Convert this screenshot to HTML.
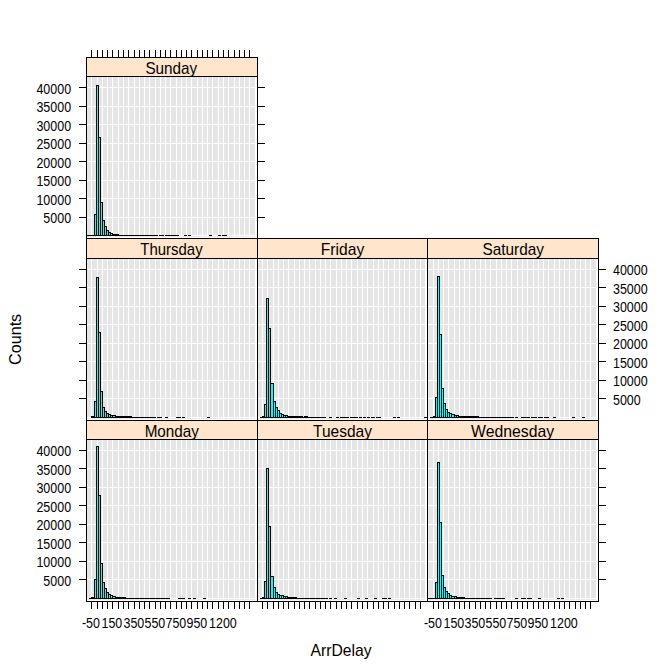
<!DOCTYPE html>
<html><head><meta charset="utf-8"><title>ArrDelay histogram</title>
<style>
html,body{margin:0;padding:0;background:#fff;}
svg{display:block;}
text{font-family:"Liberation Sans",sans-serif;fill:#000;}
</style></head><body>
<svg width="672" height="672" viewBox="0 0 672 672">
<rect x="0" y="0" width="672" height="672" fill="#fff"/>
<defs><clipPath id="c0"><rect x="87" y="58" width="170" height="18"/></clipPath><clipPath id="c1"><rect x="87" y="239" width="170" height="19"/></clipPath><clipPath id="c2"><rect x="258" y="239" width="169" height="19"/></clipPath><clipPath id="c3"><rect x="428" y="239" width="170" height="19"/></clipPath><clipPath id="c4"><rect x="87" y="421" width="170" height="18"/></clipPath><clipPath id="c5"><rect x="258" y="421" width="169" height="18"/></clipPath><clipPath id="c6"><rect x="428" y="421" width="170" height="18"/></clipPath></defs>
<g shape-rendering="crispEdges">
<rect x="86" y="57" width="172" height="20" fill="#ffe5cc"/>
<rect x="87" y="77" width="169" height="160" fill="#e5e5e5"/>
<rect x="91" y="77" width="1" height="161" fill="#fff"/>
<rect x="97" y="77" width="1" height="161" fill="#fff"/>
<rect x="102" y="77" width="1" height="161" fill="#fff"/>
<rect x="107" y="77" width="1" height="161" fill="#fff"/>
<rect x="112" y="77" width="1" height="161" fill="#fff"/>
<rect x="118" y="77" width="1" height="161" fill="#fff"/>
<rect x="123" y="77" width="1" height="161" fill="#fff"/>
<rect x="128" y="77" width="1" height="161" fill="#fff"/>
<rect x="134" y="77" width="1" height="161" fill="#fff"/>
<rect x="139" y="77" width="1" height="161" fill="#fff"/>
<rect x="144" y="77" width="1" height="161" fill="#fff"/>
<rect x="149" y="77" width="1" height="161" fill="#fff"/>
<rect x="155" y="77" width="1" height="161" fill="#fff"/>
<rect x="160" y="77" width="1" height="161" fill="#fff"/>
<rect x="165" y="77" width="1" height="161" fill="#fff"/>
<rect x="170" y="77" width="1" height="161" fill="#fff"/>
<rect x="176" y="77" width="1" height="161" fill="#fff"/>
<rect x="181" y="77" width="1" height="161" fill="#fff"/>
<rect x="186" y="77" width="1" height="161" fill="#fff"/>
<rect x="191" y="77" width="1" height="161" fill="#fff"/>
<rect x="197" y="77" width="1" height="161" fill="#fff"/>
<rect x="202" y="77" width="1" height="161" fill="#fff"/>
<rect x="207" y="77" width="1" height="161" fill="#fff"/>
<rect x="212" y="77" width="1" height="161" fill="#fff"/>
<rect x="218" y="77" width="1" height="161" fill="#fff"/>
<rect x="223" y="77" width="1" height="161" fill="#fff"/>
<rect x="228" y="77" width="1" height="161" fill="#fff"/>
<rect x="234" y="77" width="1" height="161" fill="#fff"/>
<rect x="239" y="77" width="1" height="161" fill="#fff"/>
<rect x="244" y="77" width="1" height="161" fill="#fff"/>
<rect x="249" y="77" width="1" height="161" fill="#fff"/>
<rect x="255" y="77" width="1" height="161" fill="#fff"/>
<rect x="87" y="87" width="170" height="1" fill="#fff"/>
<rect x="87" y="106" width="170" height="1" fill="#fff"/>
<rect x="87" y="124" width="170" height="1" fill="#fff"/>
<rect x="87" y="143" width="170" height="1" fill="#fff"/>
<rect x="87" y="161" width="170" height="1" fill="#fff"/>
<rect x="87" y="180" width="170" height="1" fill="#fff"/>
<rect x="87" y="198" width="170" height="1" fill="#fff"/>
<rect x="87" y="217" width="170" height="1" fill="#fff"/>
<rect x="87" y="235" width="170" height="1" fill="#fff"/>
<rect x="87" y="235" width="71" height="1" fill="#000"/>
<rect x="159" y="235" width="5" height="1" fill="#000"/>
<rect x="165" y="235" width="14" height="1" fill="#000"/>
<rect x="184" y="235" width="3" height="1" fill="#000"/>
<rect x="188" y="235" width="3" height="1" fill="#000"/>
<rect x="209" y="235" width="3" height="1" fill="#000"/>
<rect x="218" y="235" width="3" height="1" fill="#000"/>
<rect x="222" y="235" width="5" height="1" fill="#000"/>
<rect x="112" y="234" width="7" height="2" fill="#000"/>
<rect x="94" y="214" width="3" height="22" fill="#000"/>
<rect x="95" y="215" width="1" height="20" fill="#00ffff"/>
<rect x="96" y="85" width="3" height="151" fill="#000"/>
<rect x="97" y="86" width="1" height="149" fill="#00ffff"/>
<rect x="98" y="137" width="3" height="99" fill="#000"/>
<rect x="99" y="138" width="1" height="97" fill="#00ffff"/>
<rect x="100" y="202" width="3" height="34" fill="#000"/>
<rect x="101" y="203" width="1" height="32" fill="#00ffff"/>
<rect x="102" y="220" width="3" height="16" fill="#000"/>
<rect x="103" y="221" width="1" height="14" fill="#00ffff"/>
<rect x="104" y="226" width="3" height="10" fill="#000"/>
<rect x="105" y="227" width="1" height="8" fill="#00ffff"/>
<rect x="106" y="230" width="3" height="6" fill="#000"/>
<rect x="107" y="231" width="1" height="4" fill="#00ffff"/>
<rect x="108" y="232" width="3" height="4" fill="#000"/>
<rect x="109" y="233" width="1" height="2" fill="#00ffff"/>
<rect x="110" y="233" width="3" height="3" fill="#000"/>
<rect x="111" y="234" width="1" height="1" fill="#00ffff"/>
<rect x="86" y="57" width="172" height="1" fill="#000"/>
<rect x="86" y="76" width="172" height="1" fill="#000"/>
<rect x="86" y="238" width="172" height="1" fill="#000"/>
<rect x="86" y="57" width="1" height="182" fill="#000"/>
<rect x="257" y="57" width="1" height="182" fill="#000"/>
<rect x="86" y="238" width="172" height="21" fill="#ffe5cc"/>
<rect x="87" y="259" width="169" height="160" fill="#e5e5e5"/>
<rect x="91" y="259" width="1" height="161" fill="#fff"/>
<rect x="97" y="259" width="1" height="161" fill="#fff"/>
<rect x="102" y="259" width="1" height="161" fill="#fff"/>
<rect x="107" y="259" width="1" height="161" fill="#fff"/>
<rect x="112" y="259" width="1" height="161" fill="#fff"/>
<rect x="118" y="259" width="1" height="161" fill="#fff"/>
<rect x="123" y="259" width="1" height="161" fill="#fff"/>
<rect x="128" y="259" width="1" height="161" fill="#fff"/>
<rect x="134" y="259" width="1" height="161" fill="#fff"/>
<rect x="139" y="259" width="1" height="161" fill="#fff"/>
<rect x="144" y="259" width="1" height="161" fill="#fff"/>
<rect x="149" y="259" width="1" height="161" fill="#fff"/>
<rect x="155" y="259" width="1" height="161" fill="#fff"/>
<rect x="160" y="259" width="1" height="161" fill="#fff"/>
<rect x="165" y="259" width="1" height="161" fill="#fff"/>
<rect x="170" y="259" width="1" height="161" fill="#fff"/>
<rect x="176" y="259" width="1" height="161" fill="#fff"/>
<rect x="181" y="259" width="1" height="161" fill="#fff"/>
<rect x="186" y="259" width="1" height="161" fill="#fff"/>
<rect x="191" y="259" width="1" height="161" fill="#fff"/>
<rect x="197" y="259" width="1" height="161" fill="#fff"/>
<rect x="202" y="259" width="1" height="161" fill="#fff"/>
<rect x="207" y="259" width="1" height="161" fill="#fff"/>
<rect x="212" y="259" width="1" height="161" fill="#fff"/>
<rect x="218" y="259" width="1" height="161" fill="#fff"/>
<rect x="223" y="259" width="1" height="161" fill="#fff"/>
<rect x="228" y="259" width="1" height="161" fill="#fff"/>
<rect x="234" y="259" width="1" height="161" fill="#fff"/>
<rect x="239" y="259" width="1" height="161" fill="#fff"/>
<rect x="244" y="259" width="1" height="161" fill="#fff"/>
<rect x="249" y="259" width="1" height="161" fill="#fff"/>
<rect x="255" y="259" width="1" height="161" fill="#fff"/>
<rect x="87" y="269" width="170" height="1" fill="#fff"/>
<rect x="87" y="287" width="170" height="1" fill="#fff"/>
<rect x="87" y="306" width="170" height="1" fill="#fff"/>
<rect x="87" y="324" width="170" height="1" fill="#fff"/>
<rect x="87" y="343" width="170" height="1" fill="#fff"/>
<rect x="87" y="361" width="170" height="1" fill="#fff"/>
<rect x="87" y="380" width="170" height="1" fill="#fff"/>
<rect x="87" y="398" width="170" height="1" fill="#fff"/>
<rect x="87" y="417" width="170" height="1" fill="#fff"/>
<rect x="91" y="417" width="65" height="1" fill="#000"/>
<rect x="157" y="417" width="5" height="1" fill="#000"/>
<rect x="165" y="417" width="3" height="1" fill="#000"/>
<rect x="176" y="417" width="5" height="1" fill="#000"/>
<rect x="182" y="417" width="3" height="1" fill="#000"/>
<rect x="207" y="417" width="3" height="1" fill="#000"/>
<rect x="91" y="416" width="41" height="2" fill="#000"/>
<rect x="94" y="401" width="3" height="17" fill="#000"/>
<rect x="95" y="402" width="1" height="15" fill="#00ffff"/>
<rect x="96" y="277" width="3" height="141" fill="#000"/>
<rect x="97" y="278" width="1" height="139" fill="#00ffff"/>
<rect x="98" y="332" width="3" height="86" fill="#000"/>
<rect x="99" y="333" width="1" height="84" fill="#00ffff"/>
<rect x="100" y="391" width="3" height="27" fill="#000"/>
<rect x="101" y="392" width="1" height="25" fill="#00ffff"/>
<rect x="102" y="407" width="3" height="11" fill="#000"/>
<rect x="103" y="408" width="1" height="9" fill="#00ffff"/>
<rect x="104" y="411" width="3" height="7" fill="#000"/>
<rect x="105" y="412" width="1" height="5" fill="#00ffff"/>
<rect x="106" y="413" width="3" height="5" fill="#000"/>
<rect x="107" y="414" width="1" height="3" fill="#00ffff"/>
<rect x="108" y="414" width="3" height="4" fill="#000"/>
<rect x="109" y="415" width="1" height="2" fill="#00ffff"/>
<rect x="110" y="415" width="3" height="3" fill="#000"/>
<rect x="111" y="416" width="1" height="1" fill="#00ffff"/>
<rect x="112" y="415" width="4" height="3" fill="#000"/>
<rect x="113" y="416" width="2" height="1" fill="#00ffff"/>
<rect x="86" y="238" width="172" height="1" fill="#000"/>
<rect x="86" y="258" width="172" height="1" fill="#000"/>
<rect x="86" y="420" width="172" height="1" fill="#000"/>
<rect x="86" y="238" width="1" height="183" fill="#000"/>
<rect x="257" y="238" width="1" height="183" fill="#000"/>
<rect x="257" y="238" width="171" height="21" fill="#ffe5cc"/>
<rect x="258" y="259" width="168" height="160" fill="#e5e5e5"/>
<rect x="262" y="259" width="1" height="161" fill="#fff"/>
<rect x="267" y="259" width="1" height="161" fill="#fff"/>
<rect x="273" y="259" width="1" height="161" fill="#fff"/>
<rect x="278" y="259" width="1" height="161" fill="#fff"/>
<rect x="283" y="259" width="1" height="161" fill="#fff"/>
<rect x="288" y="259" width="1" height="161" fill="#fff"/>
<rect x="294" y="259" width="1" height="161" fill="#fff"/>
<rect x="299" y="259" width="1" height="161" fill="#fff"/>
<rect x="304" y="259" width="1" height="161" fill="#fff"/>
<rect x="309" y="259" width="1" height="161" fill="#fff"/>
<rect x="315" y="259" width="1" height="161" fill="#fff"/>
<rect x="320" y="259" width="1" height="161" fill="#fff"/>
<rect x="325" y="259" width="1" height="161" fill="#fff"/>
<rect x="330" y="259" width="1" height="161" fill="#fff"/>
<rect x="336" y="259" width="1" height="161" fill="#fff"/>
<rect x="341" y="259" width="1" height="161" fill="#fff"/>
<rect x="346" y="259" width="1" height="161" fill="#fff"/>
<rect x="351" y="259" width="1" height="161" fill="#fff"/>
<rect x="357" y="259" width="1" height="161" fill="#fff"/>
<rect x="362" y="259" width="1" height="161" fill="#fff"/>
<rect x="367" y="259" width="1" height="161" fill="#fff"/>
<rect x="373" y="259" width="1" height="161" fill="#fff"/>
<rect x="378" y="259" width="1" height="161" fill="#fff"/>
<rect x="383" y="259" width="1" height="161" fill="#fff"/>
<rect x="388" y="259" width="1" height="161" fill="#fff"/>
<rect x="394" y="259" width="1" height="161" fill="#fff"/>
<rect x="399" y="259" width="1" height="161" fill="#fff"/>
<rect x="404" y="259" width="1" height="161" fill="#fff"/>
<rect x="409" y="259" width="1" height="161" fill="#fff"/>
<rect x="415" y="259" width="1" height="161" fill="#fff"/>
<rect x="420" y="259" width="1" height="161" fill="#fff"/>
<rect x="425" y="259" width="1" height="161" fill="#fff"/>
<rect x="258" y="269" width="169" height="1" fill="#fff"/>
<rect x="258" y="287" width="169" height="1" fill="#fff"/>
<rect x="258" y="306" width="169" height="1" fill="#fff"/>
<rect x="258" y="324" width="169" height="1" fill="#fff"/>
<rect x="258" y="343" width="169" height="1" fill="#fff"/>
<rect x="258" y="361" width="169" height="1" fill="#fff"/>
<rect x="258" y="380" width="169" height="1" fill="#fff"/>
<rect x="258" y="398" width="169" height="1" fill="#fff"/>
<rect x="258" y="417" width="169" height="1" fill="#fff"/>
<rect x="260" y="417" width="66" height="1" fill="#000"/>
<rect x="329" y="417" width="3" height="1" fill="#000"/>
<rect x="336" y="417" width="3" height="1" fill="#000"/>
<rect x="340" y="417" width="9" height="1" fill="#000"/>
<rect x="350" y="417" width="8" height="1" fill="#000"/>
<rect x="359" y="417" width="3" height="1" fill="#000"/>
<rect x="363" y="417" width="3" height="1" fill="#000"/>
<rect x="367" y="417" width="3" height="1" fill="#000"/>
<rect x="371" y="417" width="4" height="1" fill="#000"/>
<rect x="376" y="417" width="5" height="1" fill="#000"/>
<rect x="393" y="417" width="3" height="1" fill="#000"/>
<rect x="397" y="417" width="3" height="1" fill="#000"/>
<rect x="424" y="417" width="3" height="1" fill="#000"/>
<rect x="262" y="416" width="41" height="2" fill="#000"/>
<rect x="304" y="416" width="4" height="2" fill="#000"/>
<rect x="264" y="404" width="3" height="14" fill="#000"/>
<rect x="265" y="405" width="1" height="12" fill="#00ffff"/>
<rect x="266" y="298" width="3" height="120" fill="#000"/>
<rect x="267" y="299" width="1" height="118" fill="#00ffff"/>
<rect x="268" y="328" width="3" height="90" fill="#000"/>
<rect x="269" y="329" width="1" height="88" fill="#00ffff"/>
<rect x="270" y="383" width="4" height="35" fill="#000"/>
<rect x="271" y="384" width="2" height="33" fill="#00ffff"/>
<rect x="273" y="401" width="3" height="17" fill="#000"/>
<rect x="274" y="402" width="1" height="15" fill="#00ffff"/>
<rect x="275" y="407" width="3" height="11" fill="#000"/>
<rect x="276" y="408" width="1" height="9" fill="#00ffff"/>
<rect x="277" y="410" width="3" height="8" fill="#000"/>
<rect x="278" y="411" width="1" height="6" fill="#00ffff"/>
<rect x="279" y="413" width="3" height="5" fill="#000"/>
<rect x="280" y="414" width="1" height="3" fill="#00ffff"/>
<rect x="281" y="414" width="3" height="4" fill="#000"/>
<rect x="282" y="415" width="1" height="2" fill="#00ffff"/>
<rect x="283" y="415" width="3" height="3" fill="#000"/>
<rect x="284" y="416" width="1" height="1" fill="#00ffff"/>
<rect x="285" y="415" width="3" height="3" fill="#000"/>
<rect x="286" y="416" width="1" height="1" fill="#00ffff"/>
<rect x="257" y="238" width="171" height="1" fill="#000"/>
<rect x="257" y="258" width="171" height="1" fill="#000"/>
<rect x="257" y="420" width="171" height="1" fill="#000"/>
<rect x="257" y="238" width="1" height="183" fill="#000"/>
<rect x="427" y="238" width="1" height="183" fill="#000"/>
<rect x="427" y="238" width="172" height="21" fill="#ffe5cc"/>
<rect x="428" y="259" width="169" height="160" fill="#e5e5e5"/>
<rect x="433" y="259" width="1" height="161" fill="#fff"/>
<rect x="438" y="259" width="1" height="161" fill="#fff"/>
<rect x="443" y="259" width="1" height="161" fill="#fff"/>
<rect x="448" y="259" width="1" height="161" fill="#fff"/>
<rect x="454" y="259" width="1" height="161" fill="#fff"/>
<rect x="459" y="259" width="1" height="161" fill="#fff"/>
<rect x="464" y="259" width="1" height="161" fill="#fff"/>
<rect x="469" y="259" width="1" height="161" fill="#fff"/>
<rect x="475" y="259" width="1" height="161" fill="#fff"/>
<rect x="480" y="259" width="1" height="161" fill="#fff"/>
<rect x="485" y="259" width="1" height="161" fill="#fff"/>
<rect x="490" y="259" width="1" height="161" fill="#fff"/>
<rect x="496" y="259" width="1" height="161" fill="#fff"/>
<rect x="501" y="259" width="1" height="161" fill="#fff"/>
<rect x="506" y="259" width="1" height="161" fill="#fff"/>
<rect x="511" y="259" width="1" height="161" fill="#fff"/>
<rect x="517" y="259" width="1" height="161" fill="#fff"/>
<rect x="522" y="259" width="1" height="161" fill="#fff"/>
<rect x="527" y="259" width="1" height="161" fill="#fff"/>
<rect x="533" y="259" width="1" height="161" fill="#fff"/>
<rect x="538" y="259" width="1" height="161" fill="#fff"/>
<rect x="543" y="259" width="1" height="161" fill="#fff"/>
<rect x="548" y="259" width="1" height="161" fill="#fff"/>
<rect x="554" y="259" width="1" height="161" fill="#fff"/>
<rect x="559" y="259" width="1" height="161" fill="#fff"/>
<rect x="564" y="259" width="1" height="161" fill="#fff"/>
<rect x="569" y="259" width="1" height="161" fill="#fff"/>
<rect x="575" y="259" width="1" height="161" fill="#fff"/>
<rect x="580" y="259" width="1" height="161" fill="#fff"/>
<rect x="585" y="259" width="1" height="161" fill="#fff"/>
<rect x="590" y="259" width="1" height="161" fill="#fff"/>
<rect x="596" y="259" width="1" height="161" fill="#fff"/>
<rect x="428" y="269" width="170" height="1" fill="#fff"/>
<rect x="428" y="287" width="170" height="1" fill="#fff"/>
<rect x="428" y="306" width="170" height="1" fill="#fff"/>
<rect x="428" y="324" width="170" height="1" fill="#fff"/>
<rect x="428" y="343" width="170" height="1" fill="#fff"/>
<rect x="428" y="361" width="170" height="1" fill="#fff"/>
<rect x="428" y="380" width="170" height="1" fill="#fff"/>
<rect x="428" y="398" width="170" height="1" fill="#fff"/>
<rect x="428" y="417" width="170" height="1" fill="#fff"/>
<rect x="430" y="417" width="84" height="1" fill="#000"/>
<rect x="515" y="417" width="3" height="1" fill="#000"/>
<rect x="521" y="417" width="9" height="1" fill="#000"/>
<rect x="531" y="417" width="6" height="1" fill="#000"/>
<rect x="538" y="417" width="5" height="1" fill="#000"/>
<rect x="544" y="417" width="5" height="1" fill="#000"/>
<rect x="553" y="417" width="3" height="1" fill="#000"/>
<rect x="572" y="417" width="3" height="1" fill="#000"/>
<rect x="582" y="417" width="3" height="1" fill="#000"/>
<rect x="433" y="416" width="46" height="2" fill="#000"/>
<rect x="435" y="397" width="3" height="21" fill="#000"/>
<rect x="436" y="398" width="1" height="19" fill="#00ffff"/>
<rect x="437" y="276" width="3" height="142" fill="#000"/>
<rect x="438" y="277" width="1" height="140" fill="#00ffff"/>
<rect x="439" y="334" width="3" height="84" fill="#000"/>
<rect x="440" y="335" width="1" height="82" fill="#00ffff"/>
<rect x="441" y="388" width="3" height="30" fill="#000"/>
<rect x="442" y="389" width="1" height="28" fill="#00ffff"/>
<rect x="443" y="403" width="3" height="15" fill="#000"/>
<rect x="444" y="404" width="1" height="13" fill="#00ffff"/>
<rect x="445" y="409" width="3" height="9" fill="#000"/>
<rect x="446" y="410" width="1" height="7" fill="#00ffff"/>
<rect x="447" y="412" width="3" height="6" fill="#000"/>
<rect x="448" y="413" width="1" height="4" fill="#00ffff"/>
<rect x="449" y="413" width="3" height="5" fill="#000"/>
<rect x="450" y="414" width="1" height="3" fill="#00ffff"/>
<rect x="451" y="414" width="4" height="4" fill="#000"/>
<rect x="452" y="415" width="2" height="2" fill="#00ffff"/>
<rect x="454" y="415" width="3" height="3" fill="#000"/>
<rect x="455" y="416" width="1" height="1" fill="#00ffff"/>
<rect x="456" y="415" width="3" height="3" fill="#000"/>
<rect x="457" y="416" width="1" height="1" fill="#00ffff"/>
<rect x="427" y="238" width="172" height="1" fill="#000"/>
<rect x="427" y="258" width="172" height="1" fill="#000"/>
<rect x="427" y="420" width="172" height="1" fill="#000"/>
<rect x="427" y="238" width="1" height="183" fill="#000"/>
<rect x="598" y="238" width="1" height="183" fill="#000"/>
<rect x="86" y="420" width="172" height="20" fill="#ffe5cc"/>
<rect x="87" y="440" width="169" height="160" fill="#e5e5e5"/>
<rect x="91" y="440" width="1" height="161" fill="#fff"/>
<rect x="97" y="440" width="1" height="161" fill="#fff"/>
<rect x="102" y="440" width="1" height="161" fill="#fff"/>
<rect x="107" y="440" width="1" height="161" fill="#fff"/>
<rect x="112" y="440" width="1" height="161" fill="#fff"/>
<rect x="118" y="440" width="1" height="161" fill="#fff"/>
<rect x="123" y="440" width="1" height="161" fill="#fff"/>
<rect x="128" y="440" width="1" height="161" fill="#fff"/>
<rect x="134" y="440" width="1" height="161" fill="#fff"/>
<rect x="139" y="440" width="1" height="161" fill="#fff"/>
<rect x="144" y="440" width="1" height="161" fill="#fff"/>
<rect x="149" y="440" width="1" height="161" fill="#fff"/>
<rect x="155" y="440" width="1" height="161" fill="#fff"/>
<rect x="160" y="440" width="1" height="161" fill="#fff"/>
<rect x="165" y="440" width="1" height="161" fill="#fff"/>
<rect x="170" y="440" width="1" height="161" fill="#fff"/>
<rect x="176" y="440" width="1" height="161" fill="#fff"/>
<rect x="181" y="440" width="1" height="161" fill="#fff"/>
<rect x="186" y="440" width="1" height="161" fill="#fff"/>
<rect x="191" y="440" width="1" height="161" fill="#fff"/>
<rect x="197" y="440" width="1" height="161" fill="#fff"/>
<rect x="202" y="440" width="1" height="161" fill="#fff"/>
<rect x="207" y="440" width="1" height="161" fill="#fff"/>
<rect x="212" y="440" width="1" height="161" fill="#fff"/>
<rect x="218" y="440" width="1" height="161" fill="#fff"/>
<rect x="223" y="440" width="1" height="161" fill="#fff"/>
<rect x="228" y="440" width="1" height="161" fill="#fff"/>
<rect x="234" y="440" width="1" height="161" fill="#fff"/>
<rect x="239" y="440" width="1" height="161" fill="#fff"/>
<rect x="244" y="440" width="1" height="161" fill="#fff"/>
<rect x="249" y="440" width="1" height="161" fill="#fff"/>
<rect x="255" y="440" width="1" height="161" fill="#fff"/>
<rect x="87" y="450" width="170" height="1" fill="#fff"/>
<rect x="87" y="468" width="170" height="1" fill="#fff"/>
<rect x="87" y="487" width="170" height="1" fill="#fff"/>
<rect x="87" y="505" width="170" height="1" fill="#fff"/>
<rect x="87" y="524" width="170" height="1" fill="#fff"/>
<rect x="87" y="542" width="170" height="1" fill="#fff"/>
<rect x="87" y="561" width="170" height="1" fill="#fff"/>
<rect x="87" y="579" width="170" height="1" fill="#fff"/>
<rect x="87" y="598" width="170" height="1" fill="#fff"/>
<rect x="89" y="598" width="81" height="1" fill="#000"/>
<rect x="178" y="598" width="7" height="1" fill="#000"/>
<rect x="188" y="598" width="3" height="1" fill="#000"/>
<rect x="193" y="598" width="3" height="1" fill="#000"/>
<rect x="203" y="598" width="3" height="1" fill="#000"/>
<rect x="91" y="597" width="35" height="2" fill="#000"/>
<rect x="94" y="579" width="3" height="20" fill="#000"/>
<rect x="95" y="580" width="1" height="18" fill="#00ffff"/>
<rect x="96" y="446" width="3" height="153" fill="#000"/>
<rect x="97" y="447" width="1" height="151" fill="#00ffff"/>
<rect x="98" y="495" width="3" height="104" fill="#000"/>
<rect x="99" y="496" width="1" height="102" fill="#00ffff"/>
<rect x="100" y="563" width="3" height="36" fill="#000"/>
<rect x="101" y="564" width="1" height="34" fill="#00ffff"/>
<rect x="102" y="582" width="3" height="17" fill="#000"/>
<rect x="103" y="583" width="1" height="15" fill="#00ffff"/>
<rect x="104" y="588" width="3" height="11" fill="#000"/>
<rect x="105" y="589" width="1" height="9" fill="#00ffff"/>
<rect x="106" y="592" width="3" height="7" fill="#000"/>
<rect x="107" y="593" width="1" height="5" fill="#00ffff"/>
<rect x="108" y="594" width="3" height="5" fill="#000"/>
<rect x="109" y="595" width="1" height="3" fill="#00ffff"/>
<rect x="110" y="595" width="3" height="4" fill="#000"/>
<rect x="111" y="596" width="1" height="2" fill="#00ffff"/>
<rect x="112" y="596" width="4" height="3" fill="#000"/>
<rect x="113" y="597" width="2" height="1" fill="#00ffff"/>
<rect x="86" y="420" width="172" height="1" fill="#000"/>
<rect x="86" y="439" width="172" height="1" fill="#000"/>
<rect x="86" y="601" width="172" height="1" fill="#000"/>
<rect x="86" y="420" width="1" height="182" fill="#000"/>
<rect x="257" y="420" width="1" height="182" fill="#000"/>
<rect x="257" y="420" width="171" height="20" fill="#ffe5cc"/>
<rect x="258" y="440" width="168" height="160" fill="#e5e5e5"/>
<rect x="262" y="440" width="1" height="161" fill="#fff"/>
<rect x="267" y="440" width="1" height="161" fill="#fff"/>
<rect x="273" y="440" width="1" height="161" fill="#fff"/>
<rect x="278" y="440" width="1" height="161" fill="#fff"/>
<rect x="283" y="440" width="1" height="161" fill="#fff"/>
<rect x="288" y="440" width="1" height="161" fill="#fff"/>
<rect x="294" y="440" width="1" height="161" fill="#fff"/>
<rect x="299" y="440" width="1" height="161" fill="#fff"/>
<rect x="304" y="440" width="1" height="161" fill="#fff"/>
<rect x="309" y="440" width="1" height="161" fill="#fff"/>
<rect x="315" y="440" width="1" height="161" fill="#fff"/>
<rect x="320" y="440" width="1" height="161" fill="#fff"/>
<rect x="325" y="440" width="1" height="161" fill="#fff"/>
<rect x="330" y="440" width="1" height="161" fill="#fff"/>
<rect x="336" y="440" width="1" height="161" fill="#fff"/>
<rect x="341" y="440" width="1" height="161" fill="#fff"/>
<rect x="346" y="440" width="1" height="161" fill="#fff"/>
<rect x="351" y="440" width="1" height="161" fill="#fff"/>
<rect x="357" y="440" width="1" height="161" fill="#fff"/>
<rect x="362" y="440" width="1" height="161" fill="#fff"/>
<rect x="367" y="440" width="1" height="161" fill="#fff"/>
<rect x="373" y="440" width="1" height="161" fill="#fff"/>
<rect x="378" y="440" width="1" height="161" fill="#fff"/>
<rect x="383" y="440" width="1" height="161" fill="#fff"/>
<rect x="388" y="440" width="1" height="161" fill="#fff"/>
<rect x="394" y="440" width="1" height="161" fill="#fff"/>
<rect x="399" y="440" width="1" height="161" fill="#fff"/>
<rect x="404" y="440" width="1" height="161" fill="#fff"/>
<rect x="409" y="440" width="1" height="161" fill="#fff"/>
<rect x="415" y="440" width="1" height="161" fill="#fff"/>
<rect x="420" y="440" width="1" height="161" fill="#fff"/>
<rect x="425" y="440" width="1" height="161" fill="#fff"/>
<rect x="258" y="450" width="169" height="1" fill="#fff"/>
<rect x="258" y="468" width="169" height="1" fill="#fff"/>
<rect x="258" y="487" width="169" height="1" fill="#fff"/>
<rect x="258" y="505" width="169" height="1" fill="#fff"/>
<rect x="258" y="524" width="169" height="1" fill="#fff"/>
<rect x="258" y="542" width="169" height="1" fill="#fff"/>
<rect x="258" y="561" width="169" height="1" fill="#fff"/>
<rect x="258" y="579" width="169" height="1" fill="#fff"/>
<rect x="258" y="598" width="169" height="1" fill="#fff"/>
<rect x="260" y="598" width="68" height="1" fill="#000"/>
<rect x="329" y="598" width="3" height="1" fill="#000"/>
<rect x="334" y="598" width="3" height="1" fill="#000"/>
<rect x="344" y="598" width="3" height="1" fill="#000"/>
<rect x="357" y="598" width="3" height="1" fill="#000"/>
<rect x="365" y="598" width="3" height="1" fill="#000"/>
<rect x="374" y="598" width="3" height="1" fill="#000"/>
<rect x="382" y="598" width="5" height="1" fill="#000"/>
<rect x="388" y="598" width="3" height="1" fill="#000"/>
<rect x="262" y="597" width="35" height="2" fill="#000"/>
<rect x="264" y="581" width="3" height="18" fill="#000"/>
<rect x="265" y="582" width="1" height="16" fill="#00ffff"/>
<rect x="266" y="468" width="3" height="131" fill="#000"/>
<rect x="267" y="469" width="1" height="129" fill="#00ffff"/>
<rect x="268" y="526" width="3" height="73" fill="#000"/>
<rect x="269" y="527" width="1" height="71" fill="#00ffff"/>
<rect x="270" y="576" width="4" height="23" fill="#000"/>
<rect x="271" y="577" width="2" height="21" fill="#00ffff"/>
<rect x="273" y="587" width="3" height="12" fill="#000"/>
<rect x="274" y="588" width="1" height="10" fill="#00ffff"/>
<rect x="275" y="592" width="3" height="7" fill="#000"/>
<rect x="276" y="593" width="1" height="5" fill="#00ffff"/>
<rect x="277" y="594" width="3" height="5" fill="#000"/>
<rect x="278" y="595" width="1" height="3" fill="#00ffff"/>
<rect x="279" y="595" width="3" height="4" fill="#000"/>
<rect x="280" y="596" width="1" height="2" fill="#00ffff"/>
<rect x="281" y="595" width="3" height="4" fill="#000"/>
<rect x="282" y="596" width="1" height="2" fill="#00ffff"/>
<rect x="283" y="596" width="3" height="3" fill="#000"/>
<rect x="284" y="597" width="1" height="1" fill="#00ffff"/>
<rect x="285" y="596" width="3" height="3" fill="#000"/>
<rect x="286" y="597" width="1" height="1" fill="#00ffff"/>
<rect x="257" y="420" width="171" height="1" fill="#000"/>
<rect x="257" y="439" width="171" height="1" fill="#000"/>
<rect x="257" y="601" width="171" height="1" fill="#000"/>
<rect x="257" y="420" width="1" height="182" fill="#000"/>
<rect x="427" y="420" width="1" height="182" fill="#000"/>
<rect x="427" y="420" width="172" height="20" fill="#ffe5cc"/>
<rect x="428" y="440" width="169" height="160" fill="#e5e5e5"/>
<rect x="433" y="440" width="1" height="161" fill="#fff"/>
<rect x="438" y="440" width="1" height="161" fill="#fff"/>
<rect x="443" y="440" width="1" height="161" fill="#fff"/>
<rect x="448" y="440" width="1" height="161" fill="#fff"/>
<rect x="454" y="440" width="1" height="161" fill="#fff"/>
<rect x="459" y="440" width="1" height="161" fill="#fff"/>
<rect x="464" y="440" width="1" height="161" fill="#fff"/>
<rect x="469" y="440" width="1" height="161" fill="#fff"/>
<rect x="475" y="440" width="1" height="161" fill="#fff"/>
<rect x="480" y="440" width="1" height="161" fill="#fff"/>
<rect x="485" y="440" width="1" height="161" fill="#fff"/>
<rect x="490" y="440" width="1" height="161" fill="#fff"/>
<rect x="496" y="440" width="1" height="161" fill="#fff"/>
<rect x="501" y="440" width="1" height="161" fill="#fff"/>
<rect x="506" y="440" width="1" height="161" fill="#fff"/>
<rect x="511" y="440" width="1" height="161" fill="#fff"/>
<rect x="517" y="440" width="1" height="161" fill="#fff"/>
<rect x="522" y="440" width="1" height="161" fill="#fff"/>
<rect x="527" y="440" width="1" height="161" fill="#fff"/>
<rect x="533" y="440" width="1" height="161" fill="#fff"/>
<rect x="538" y="440" width="1" height="161" fill="#fff"/>
<rect x="543" y="440" width="1" height="161" fill="#fff"/>
<rect x="548" y="440" width="1" height="161" fill="#fff"/>
<rect x="554" y="440" width="1" height="161" fill="#fff"/>
<rect x="559" y="440" width="1" height="161" fill="#fff"/>
<rect x="564" y="440" width="1" height="161" fill="#fff"/>
<rect x="569" y="440" width="1" height="161" fill="#fff"/>
<rect x="575" y="440" width="1" height="161" fill="#fff"/>
<rect x="580" y="440" width="1" height="161" fill="#fff"/>
<rect x="585" y="440" width="1" height="161" fill="#fff"/>
<rect x="590" y="440" width="1" height="161" fill="#fff"/>
<rect x="596" y="440" width="1" height="161" fill="#fff"/>
<rect x="428" y="450" width="170" height="1" fill="#fff"/>
<rect x="428" y="468" width="170" height="1" fill="#fff"/>
<rect x="428" y="487" width="170" height="1" fill="#fff"/>
<rect x="428" y="505" width="170" height="1" fill="#fff"/>
<rect x="428" y="524" width="170" height="1" fill="#fff"/>
<rect x="428" y="542" width="170" height="1" fill="#fff"/>
<rect x="428" y="561" width="170" height="1" fill="#fff"/>
<rect x="428" y="579" width="170" height="1" fill="#fff"/>
<rect x="428" y="598" width="170" height="1" fill="#fff"/>
<rect x="428" y="598" width="64" height="1" fill="#000"/>
<rect x="494" y="598" width="11" height="1" fill="#000"/>
<rect x="515" y="598" width="3" height="1" fill="#000"/>
<rect x="521" y="598" width="5" height="1" fill="#000"/>
<rect x="527" y="598" width="5" height="1" fill="#000"/>
<rect x="538" y="598" width="3" height="1" fill="#000"/>
<rect x="557" y="598" width="3" height="1" fill="#000"/>
<rect x="561" y="598" width="3" height="1" fill="#000"/>
<rect x="435" y="597" width="30" height="2" fill="#000"/>
<rect x="435" y="582" width="3" height="17" fill="#000"/>
<rect x="436" y="583" width="1" height="15" fill="#00ffff"/>
<rect x="437" y="462" width="3" height="137" fill="#000"/>
<rect x="438" y="463" width="1" height="135" fill="#00ffff"/>
<rect x="439" y="522" width="3" height="77" fill="#000"/>
<rect x="440" y="523" width="1" height="75" fill="#00ffff"/>
<rect x="441" y="575" width="3" height="24" fill="#000"/>
<rect x="442" y="576" width="1" height="22" fill="#00ffff"/>
<rect x="443" y="587" width="3" height="12" fill="#000"/>
<rect x="444" y="588" width="1" height="10" fill="#00ffff"/>
<rect x="445" y="591" width="3" height="8" fill="#000"/>
<rect x="446" y="592" width="1" height="6" fill="#00ffff"/>
<rect x="447" y="593" width="3" height="6" fill="#000"/>
<rect x="448" y="594" width="1" height="4" fill="#00ffff"/>
<rect x="449" y="595" width="3" height="4" fill="#000"/>
<rect x="450" y="596" width="1" height="2" fill="#00ffff"/>
<rect x="451" y="596" width="4" height="3" fill="#000"/>
<rect x="452" y="597" width="2" height="1" fill="#00ffff"/>
<rect x="454" y="596" width="3" height="3" fill="#000"/>
<rect x="455" y="597" width="1" height="1" fill="#00ffff"/>
<rect x="427" y="420" width="172" height="1" fill="#000"/>
<rect x="427" y="439" width="172" height="1" fill="#000"/>
<rect x="427" y="601" width="172" height="1" fill="#000"/>
<rect x="427" y="420" width="1" height="182" fill="#000"/>
<rect x="598" y="420" width="1" height="182" fill="#000"/>
<rect x="91" y="50" width="1" height="7" fill="#000"/>
<rect x="97" y="50" width="1" height="7" fill="#000"/>
<rect x="102" y="50" width="1" height="7" fill="#000"/>
<rect x="107" y="50" width="1" height="7" fill="#000"/>
<rect x="112" y="50" width="1" height="7" fill="#000"/>
<rect x="118" y="50" width="1" height="7" fill="#000"/>
<rect x="123" y="50" width="1" height="7" fill="#000"/>
<rect x="128" y="50" width="1" height="7" fill="#000"/>
<rect x="134" y="50" width="1" height="7" fill="#000"/>
<rect x="139" y="50" width="1" height="7" fill="#000"/>
<rect x="144" y="50" width="1" height="7" fill="#000"/>
<rect x="149" y="50" width="1" height="7" fill="#000"/>
<rect x="155" y="50" width="1" height="7" fill="#000"/>
<rect x="160" y="50" width="1" height="7" fill="#000"/>
<rect x="165" y="50" width="1" height="7" fill="#000"/>
<rect x="170" y="50" width="1" height="7" fill="#000"/>
<rect x="176" y="50" width="1" height="7" fill="#000"/>
<rect x="181" y="50" width="1" height="7" fill="#000"/>
<rect x="186" y="50" width="1" height="7" fill="#000"/>
<rect x="191" y="50" width="1" height="7" fill="#000"/>
<rect x="197" y="50" width="1" height="7" fill="#000"/>
<rect x="202" y="50" width="1" height="7" fill="#000"/>
<rect x="207" y="50" width="1" height="7" fill="#000"/>
<rect x="212" y="50" width="1" height="7" fill="#000"/>
<rect x="218" y="50" width="1" height="7" fill="#000"/>
<rect x="223" y="50" width="1" height="7" fill="#000"/>
<rect x="228" y="50" width="1" height="7" fill="#000"/>
<rect x="234" y="50" width="1" height="7" fill="#000"/>
<rect x="239" y="50" width="1" height="7" fill="#000"/>
<rect x="244" y="50" width="1" height="7" fill="#000"/>
<rect x="249" y="50" width="1" height="7" fill="#000"/>
<rect x="91" y="602" width="1" height="7" fill="#000"/>
<rect x="97" y="602" width="1" height="7" fill="#000"/>
<rect x="102" y="602" width="1" height="7" fill="#000"/>
<rect x="107" y="602" width="1" height="7" fill="#000"/>
<rect x="112" y="602" width="1" height="7" fill="#000"/>
<rect x="118" y="602" width="1" height="7" fill="#000"/>
<rect x="123" y="602" width="1" height="7" fill="#000"/>
<rect x="128" y="602" width="1" height="7" fill="#000"/>
<rect x="134" y="602" width="1" height="7" fill="#000"/>
<rect x="139" y="602" width="1" height="7" fill="#000"/>
<rect x="144" y="602" width="1" height="7" fill="#000"/>
<rect x="149" y="602" width="1" height="7" fill="#000"/>
<rect x="155" y="602" width="1" height="7" fill="#000"/>
<rect x="160" y="602" width="1" height="7" fill="#000"/>
<rect x="165" y="602" width="1" height="7" fill="#000"/>
<rect x="170" y="602" width="1" height="7" fill="#000"/>
<rect x="176" y="602" width="1" height="7" fill="#000"/>
<rect x="181" y="602" width="1" height="7" fill="#000"/>
<rect x="186" y="602" width="1" height="7" fill="#000"/>
<rect x="191" y="602" width="1" height="7" fill="#000"/>
<rect x="197" y="602" width="1" height="7" fill="#000"/>
<rect x="202" y="602" width="1" height="7" fill="#000"/>
<rect x="207" y="602" width="1" height="7" fill="#000"/>
<rect x="212" y="602" width="1" height="7" fill="#000"/>
<rect x="218" y="602" width="1" height="7" fill="#000"/>
<rect x="223" y="602" width="1" height="7" fill="#000"/>
<rect x="228" y="602" width="1" height="7" fill="#000"/>
<rect x="234" y="602" width="1" height="7" fill="#000"/>
<rect x="239" y="602" width="1" height="7" fill="#000"/>
<rect x="244" y="602" width="1" height="7" fill="#000"/>
<rect x="249" y="602" width="1" height="7" fill="#000"/>
<rect x="262" y="602" width="1" height="7" fill="#000"/>
<rect x="267" y="602" width="1" height="7" fill="#000"/>
<rect x="273" y="602" width="1" height="7" fill="#000"/>
<rect x="278" y="602" width="1" height="7" fill="#000"/>
<rect x="283" y="602" width="1" height="7" fill="#000"/>
<rect x="288" y="602" width="1" height="7" fill="#000"/>
<rect x="294" y="602" width="1" height="7" fill="#000"/>
<rect x="299" y="602" width="1" height="7" fill="#000"/>
<rect x="304" y="602" width="1" height="7" fill="#000"/>
<rect x="309" y="602" width="1" height="7" fill="#000"/>
<rect x="315" y="602" width="1" height="7" fill="#000"/>
<rect x="320" y="602" width="1" height="7" fill="#000"/>
<rect x="325" y="602" width="1" height="7" fill="#000"/>
<rect x="330" y="602" width="1" height="7" fill="#000"/>
<rect x="336" y="602" width="1" height="7" fill="#000"/>
<rect x="341" y="602" width="1" height="7" fill="#000"/>
<rect x="346" y="602" width="1" height="7" fill="#000"/>
<rect x="351" y="602" width="1" height="7" fill="#000"/>
<rect x="357" y="602" width="1" height="7" fill="#000"/>
<rect x="362" y="602" width="1" height="7" fill="#000"/>
<rect x="367" y="602" width="1" height="7" fill="#000"/>
<rect x="373" y="602" width="1" height="7" fill="#000"/>
<rect x="378" y="602" width="1" height="7" fill="#000"/>
<rect x="383" y="602" width="1" height="7" fill="#000"/>
<rect x="388" y="602" width="1" height="7" fill="#000"/>
<rect x="394" y="602" width="1" height="7" fill="#000"/>
<rect x="399" y="602" width="1" height="7" fill="#000"/>
<rect x="404" y="602" width="1" height="7" fill="#000"/>
<rect x="409" y="602" width="1" height="7" fill="#000"/>
<rect x="415" y="602" width="1" height="7" fill="#000"/>
<rect x="420" y="602" width="1" height="7" fill="#000"/>
<rect x="433" y="602" width="1" height="7" fill="#000"/>
<rect x="438" y="602" width="1" height="7" fill="#000"/>
<rect x="443" y="602" width="1" height="7" fill="#000"/>
<rect x="448" y="602" width="1" height="7" fill="#000"/>
<rect x="454" y="602" width="1" height="7" fill="#000"/>
<rect x="459" y="602" width="1" height="7" fill="#000"/>
<rect x="464" y="602" width="1" height="7" fill="#000"/>
<rect x="469" y="602" width="1" height="7" fill="#000"/>
<rect x="475" y="602" width="1" height="7" fill="#000"/>
<rect x="480" y="602" width="1" height="7" fill="#000"/>
<rect x="485" y="602" width="1" height="7" fill="#000"/>
<rect x="490" y="602" width="1" height="7" fill="#000"/>
<rect x="496" y="602" width="1" height="7" fill="#000"/>
<rect x="501" y="602" width="1" height="7" fill="#000"/>
<rect x="506" y="602" width="1" height="7" fill="#000"/>
<rect x="511" y="602" width="1" height="7" fill="#000"/>
<rect x="517" y="602" width="1" height="7" fill="#000"/>
<rect x="522" y="602" width="1" height="7" fill="#000"/>
<rect x="527" y="602" width="1" height="7" fill="#000"/>
<rect x="533" y="602" width="1" height="7" fill="#000"/>
<rect x="538" y="602" width="1" height="7" fill="#000"/>
<rect x="543" y="602" width="1" height="7" fill="#000"/>
<rect x="548" y="602" width="1" height="7" fill="#000"/>
<rect x="554" y="602" width="1" height="7" fill="#000"/>
<rect x="559" y="602" width="1" height="7" fill="#000"/>
<rect x="564" y="602" width="1" height="7" fill="#000"/>
<rect x="569" y="602" width="1" height="7" fill="#000"/>
<rect x="575" y="602" width="1" height="7" fill="#000"/>
<rect x="580" y="602" width="1" height="7" fill="#000"/>
<rect x="585" y="602" width="1" height="7" fill="#000"/>
<rect x="590" y="602" width="1" height="7" fill="#000"/>
<rect x="79" y="87" width="7" height="1" fill="#000"/>
<rect x="79" y="106" width="7" height="1" fill="#000"/>
<rect x="79" y="124" width="7" height="1" fill="#000"/>
<rect x="79" y="143" width="7" height="1" fill="#000"/>
<rect x="79" y="161" width="7" height="1" fill="#000"/>
<rect x="79" y="180" width="7" height="1" fill="#000"/>
<rect x="79" y="198" width="7" height="1" fill="#000"/>
<rect x="79" y="217" width="7" height="1" fill="#000"/>
<rect x="79" y="269" width="7" height="1" fill="#000"/>
<rect x="79" y="287" width="7" height="1" fill="#000"/>
<rect x="79" y="306" width="7" height="1" fill="#000"/>
<rect x="79" y="324" width="7" height="1" fill="#000"/>
<rect x="79" y="343" width="7" height="1" fill="#000"/>
<rect x="79" y="361" width="7" height="1" fill="#000"/>
<rect x="79" y="380" width="7" height="1" fill="#000"/>
<rect x="79" y="398" width="7" height="1" fill="#000"/>
<rect x="79" y="450" width="7" height="1" fill="#000"/>
<rect x="79" y="468" width="7" height="1" fill="#000"/>
<rect x="79" y="487" width="7" height="1" fill="#000"/>
<rect x="79" y="505" width="7" height="1" fill="#000"/>
<rect x="79" y="524" width="7" height="1" fill="#000"/>
<rect x="79" y="542" width="7" height="1" fill="#000"/>
<rect x="79" y="561" width="7" height="1" fill="#000"/>
<rect x="79" y="579" width="7" height="1" fill="#000"/>
<rect x="258" y="87" width="7" height="1" fill="#000"/>
<rect x="258" y="106" width="7" height="1" fill="#000"/>
<rect x="258" y="124" width="7" height="1" fill="#000"/>
<rect x="258" y="143" width="7" height="1" fill="#000"/>
<rect x="258" y="161" width="7" height="1" fill="#000"/>
<rect x="258" y="180" width="7" height="1" fill="#000"/>
<rect x="258" y="198" width="7" height="1" fill="#000"/>
<rect x="258" y="217" width="7" height="1" fill="#000"/>
<rect x="599" y="269" width="7" height="1" fill="#000"/>
<rect x="599" y="287" width="7" height="1" fill="#000"/>
<rect x="599" y="306" width="7" height="1" fill="#000"/>
<rect x="599" y="324" width="7" height="1" fill="#000"/>
<rect x="599" y="343" width="7" height="1" fill="#000"/>
<rect x="599" y="361" width="7" height="1" fill="#000"/>
<rect x="599" y="380" width="7" height="1" fill="#000"/>
<rect x="599" y="398" width="7" height="1" fill="#000"/>
<rect x="599" y="450" width="7" height="1" fill="#000"/>
<rect x="599" y="468" width="7" height="1" fill="#000"/>
<rect x="599" y="487" width="7" height="1" fill="#000"/>
<rect x="599" y="505" width="7" height="1" fill="#000"/>
<rect x="599" y="524" width="7" height="1" fill="#000"/>
<rect x="599" y="542" width="7" height="1" fill="#000"/>
<rect x="599" y="561" width="7" height="1" fill="#000"/>
<rect x="599" y="579" width="7" height="1" fill="#000"/>
</g>
<g>
<g clip-path="url(#c0)"><text transform="translate(171.25,74) scale(0.954,1.0)" font-size="16" text-anchor="middle">Sunday</text></g>
<g clip-path="url(#c1)"><text transform="translate(171.45,255) scale(0.935,1.0)" font-size="16" text-anchor="middle">Thursday</text></g>
<g clip-path="url(#c2)"><text transform="translate(342.5,255) scale(0.977,1.0)" font-size="16" text-anchor="middle">Friday</text></g>
<g clip-path="url(#c3)"><text transform="translate(513.25,255) scale(0.961,1.0)" font-size="16" text-anchor="middle">Saturday</text></g>
<g clip-path="url(#c4)"><text transform="translate(171.75,437) scale(0.953,1.0)" font-size="16" text-anchor="middle">Monday</text></g>
<g clip-path="url(#c5)"><text transform="translate(342.5,437) scale(0.97,1.0)" font-size="16" text-anchor="middle">Tuesday</text></g>
<g clip-path="url(#c6)"><text transform="translate(512.55,437) scale(0.987,1.0)" font-size="16" text-anchor="middle">Wednesday</text></g>
<text transform="translate(71.1,94.4) scale(0.975,1.08)" font-size="12.8" text-anchor="end">40000</text>
<text transform="translate(71.1,112.4) scale(0.975,1.08)" font-size="12.8" text-anchor="end">35000</text>
<text transform="translate(71.1,131.4) scale(0.975,1.08)" font-size="12.8" text-anchor="end">30000</text>
<text transform="translate(71.1,149.4) scale(0.975,1.08)" font-size="12.8" text-anchor="end">25000</text>
<text transform="translate(71.1,168.4) scale(0.975,1.08)" font-size="12.8" text-anchor="end">20000</text>
<text transform="translate(71.1,186.4) scale(0.975,1.08)" font-size="12.8" text-anchor="end">15000</text>
<text transform="translate(71.1,205.4) scale(0.975,1.08)" font-size="12.8" text-anchor="end">10000</text>
<text transform="translate(71.1,223.4) scale(0.975,1.08)" font-size="12.8" text-anchor="end">5000</text>
<text transform="translate(71.1,456.4) scale(0.975,1.08)" font-size="12.8" text-anchor="end">40000</text>
<text transform="translate(71.1,475.4) scale(0.975,1.08)" font-size="12.8" text-anchor="end">35000</text>
<text transform="translate(71.1,493.4) scale(0.975,1.08)" font-size="12.8" text-anchor="end">30000</text>
<text transform="translate(71.1,512.4) scale(0.975,1.08)" font-size="12.8" text-anchor="end">25000</text>
<text transform="translate(71.1,530.4) scale(0.975,1.08)" font-size="12.8" text-anchor="end">20000</text>
<text transform="translate(71.1,549.4) scale(0.975,1.08)" font-size="12.8" text-anchor="end">15000</text>
<text transform="translate(71.1,567.4) scale(0.975,1.08)" font-size="12.8" text-anchor="end">10000</text>
<text transform="translate(71.1,586.4) scale(0.975,1.08)" font-size="12.8" text-anchor="end">5000</text>
<text transform="translate(613,275.4) scale(0.975,1.08)" font-size="12.8" text-anchor="start">40000</text>
<text transform="translate(613,294.4) scale(0.975,1.08)" font-size="12.8" text-anchor="start">35000</text>
<text transform="translate(613,312.4) scale(0.975,1.08)" font-size="12.8" text-anchor="start">30000</text>
<text transform="translate(613,331.4) scale(0.975,1.08)" font-size="12.8" text-anchor="start">25000</text>
<text transform="translate(613,349.4) scale(0.975,1.08)" font-size="12.8" text-anchor="start">20000</text>
<text transform="translate(613,368.4) scale(0.975,1.08)" font-size="12.8" text-anchor="start">15000</text>
<text transform="translate(613,386.4) scale(0.975,1.08)" font-size="12.8" text-anchor="start">10000</text>
<text transform="translate(613,405.4) scale(0.975,1.08)" font-size="12.8" text-anchor="start">5000</text>
<text transform="translate(90.9,627.9) scale(0.975,1.08)" font-size="12.8" text-anchor="middle">-50</text>
<text transform="translate(111.9,627.9) scale(0.975,1.08)" font-size="12.8" text-anchor="middle">150</text>
<text transform="translate(133.9,627.9) scale(0.975,1.08)" font-size="12.8" text-anchor="middle">350</text>
<text transform="translate(154.9,627.9) scale(0.975,1.08)" font-size="12.8" text-anchor="middle">550</text>
<text transform="translate(175.9,627.9) scale(0.975,1.08)" font-size="12.8" text-anchor="middle">750</text>
<text transform="translate(196.9,627.9) scale(0.975,1.08)" font-size="12.8" text-anchor="middle">950</text>
<text transform="translate(222.9,627.9) scale(0.975,1.08)" font-size="12.8" text-anchor="middle">1200</text>
<text transform="translate(432.9,627.9) scale(0.975,1.08)" font-size="12.8" text-anchor="middle">-50</text>
<text transform="translate(453.9,627.9) scale(0.975,1.08)" font-size="12.8" text-anchor="middle">150</text>
<text transform="translate(474.9,627.9) scale(0.975,1.08)" font-size="12.8" text-anchor="middle">350</text>
<text transform="translate(495.9,627.9) scale(0.975,1.08)" font-size="12.8" text-anchor="middle">550</text>
<text transform="translate(516.9,627.9) scale(0.975,1.08)" font-size="12.8" text-anchor="middle">750</text>
<text transform="translate(537.9,627.9) scale(0.975,1.08)" font-size="12.8" text-anchor="middle">950</text>
<text transform="translate(563.9,627.9) scale(0.975,1.08)" font-size="12.8" text-anchor="middle">1200</text>
<text transform="translate(341.0,655.5) scale(0.98,1.0)" font-size="16" text-anchor="middle">ArrDelay</text>
<text transform="translate(20.8,339.4) rotate(-90) scale(1.01,1.0)" font-size="16" text-anchor="middle">Counts</text>
</g>
</svg>
</body></html>
